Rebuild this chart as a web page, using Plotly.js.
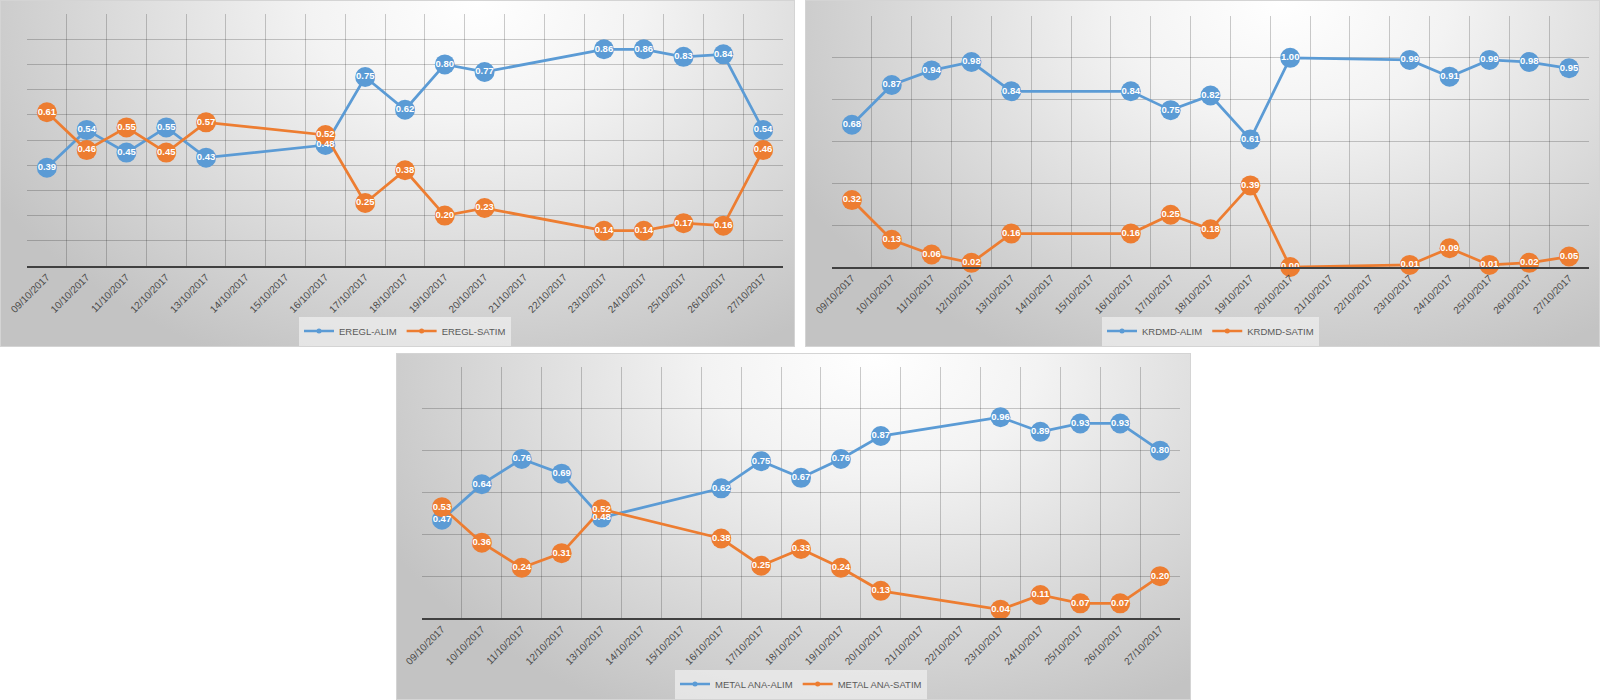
<!DOCTYPE html>
<html>
<head>
<meta charset="utf-8">
<script src="https://cdn.plot.ly/plotly-3.0.1.min.js"></script>
<style>
  html, body { margin: 0; padding: 0; background: #ffffff; width: 1600px; height: 700px; overflow: hidden; }
  .box {
    position: absolute;
    width: 795px; height: 347px;
    box-sizing: border-box;
    border: 1px solid #d4d4d4;
    background: radial-gradient(ellipse 70% 115% at 60% 0%, #ffffff 0%, #f3f3f3 30%, #d9d9d9 68%, #c3c3c3 100%);
  }
</style>
</head>
<body>
<div id="c1" class="box" style="left:0px; top:0px;"></div>
<div id="c2" class="box" style="left:805px; top:0px;"></div>
<div id="c3" class="box" style="left:396px; top:353px;"></div>
<script>
// ---- data ----
var dates = ['09/10/2017','10/10/2017','11/10/2017','12/10/2017','13/10/2017','14/10/2017','15/10/2017',
             '16/10/2017','17/10/2017','18/10/2017','19/10/2017','20/10/2017','21/10/2017','22/10/2017',
             '23/10/2017','24/10/2017','25/10/2017','26/10/2017','27/10/2017'];

var ereglAlim  = [0.39,0.54,0.45,0.55,0.43,null,null,0.48,0.75,0.62,0.80,0.77,null,null,0.86,0.86,0.83,0.84,0.54];
var ereglSatim = [0.61,0.46,0.55,0.45,0.57,null,null,0.52,0.25,0.38,0.20,0.23,null,null,0.14,0.14,0.17,0.16,0.46];

var krdmdAlim  = [0.68,0.87,0.94,0.98,0.84,null,null,0.84,0.75,0.82,0.61,1.00,null,null,0.99,0.91,0.99,0.98,0.95];
var krdmdSatim = [0.32,0.13,0.06,0.02,0.16,null,null,0.16,0.25,0.18,0.39,0.00,null,null,0.01,0.09,0.01,0.02,0.05];

var metalAlim  = [0.47,0.64,0.76,0.69,0.48,null,null,0.62,0.75,0.67,0.76,0.87,null,null,0.96,0.89,0.93,0.93,0.80];
var metalSatim = [0.53,0.36,0.24,0.31,0.52,null,null,0.38,0.25,0.33,0.24,0.13,null,null,0.04,0.11,0.07,0.07,0.20];

var BLUE = '#5B9BD5', ORANGE = '#ED7D31';
var FONT = 'Liberation Sans, Arial, sans-serif';
var FONT_B = 'Liberation Sans, Arial, sans-serif';

function fmt(arr) { return arr.map(function(v){ return v === null ? '' : v.toFixed(2); }); }

function build(divId, names, a, s, yMax, yStep, margin) {
  var lineTrace = function(y, c) {
    return { x: dates, y: y, type: 'scatter', mode: 'lines+markers', connectgaps: true,
      line: { color: c, width: 2.75 }, marker: { color: c, size: 20 },
      showlegend: false, hoverinfo: 'skip', cliponaxis: false };
  };
  var textTrace = function(y) {
    return { x: dates, y: y, type: 'scatter', mode: 'text', text: fmt(y),
      textposition: 'middle center',
      textfont: { color: '#ffffff', size: 9.5, family: FONT_B, weight: 'bold' },
      showlegend: false, hoverinfo: 'skip', cliponaxis: false };
  };
  var legendTrace = function(name, c) {
    return { x: [null], y: [null], type: 'scatter', mode: 'lines+markers', name: name,
      line: { color: c, width: 2.5 }, marker: { color: c, size: 5 }, hoverinfo: 'skip' };
  };
  var data = [lineTrace(a, BLUE), lineTrace(s, ORANGE), textTrace(a), textTrace(s),
              legendTrace(names[0], BLUE), legendTrace(names[1], ORANGE)];
  margin.autoexpand = false;
  var plotBottom = 347 - margin.b;
  var plotH = plotBottom - margin.t;
  var layout = {
    width: 795, height: 347,
    margin: margin,
    paper_bgcolor: 'rgba(0,0,0,0)', plot_bgcolor: 'rgba(0,0,0,0)',
    font: { family: FONT, color: '#595959', size: 10 },
    showlegend: true,
    legend: { orientation: 'h', x: 0.5, xanchor: 'center', y: -(330 - plotBottom) / plotH, yanchor: 'middle',
      bgcolor: 'rgba(238,238,238,0.75)', font: { size: 9.5, color: '#595959', family: FONT },
      itemwidth: 30, tracegroupgap: 0 },
    xaxis: { type: 'category', categoryorder: 'array', categoryarray: dates, range: [-0.5, 18.5],
      tickson: 'boundaries', showgrid: true, gridcolor: 'rgba(0,0,0,0.2)', gridwidth: 1,
      ticks: '', tickangle: -45, tickfont: { size: 10, color: '#4a4a4a', family: FONT },
      showline: true, linecolor: '#404040', linewidth: 1.5, zeroline: false, fixedrange: true,
      automargin: false },
    yaxis: { range: [0, yMax], dtick: yStep, tick0: 0, showticklabels: false, ticks: '',
      showgrid: true, gridcolor: 'rgba(0,0,0,0.2)', gridwidth: 1, zeroline: false, showline: false,
      fixedrange: true, automargin: false }
  };
  Plotly.newPlot(divId, data, layout, { displayModeBar: false, staticPlot: true });
}

build('c1', ['EREGL-ALIM', 'EREGL-SATIM'], ereglAlim, ereglSatim, 1.0, 0.1, { l: 26, r: 13, t: 13, b: 82 });
build('c2', ['KRDMD-ALIM', 'KRDMD-SATIM'], krdmdAlim, krdmdSatim, 1.2, 0.2, { l: 26, r: 12, t: 15, b: 81 });
build('c3', ['METAL ANA-ALIM', 'METAL ANA-SATIM'], metalAlim, metalSatim, 1.2, 0.2, { l: 25, r: 12, t: 13, b: 83 });
</script>
</body>
</html>
